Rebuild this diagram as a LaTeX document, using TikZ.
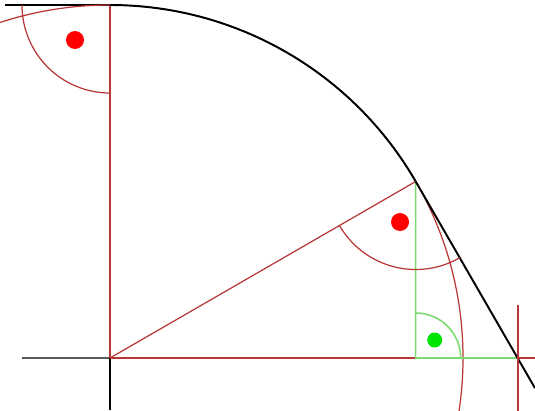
\documentclass[tikz,border=0pt]{standalone}
\usepackage{xcolor}
\usetikzlibrary{calc}
\definecolor{lnred}{RGB}{185,55,55}
\definecolor{lngreen}{RGB}{120,220,110}
\tikzset{
  redln/.style   ={draw=lnred, line width=0.7pt},
  greenln/.style ={draw=lngreen, line width=0.9pt},
  blackln/.style ={draw=black, line width=1.1pt},
  axisln/.style  ={draw=black, line width=0.6pt},
  reddot/.style  ={fill=red, draw=none},
  greendot/.style={fill=green!90!black, draw=none},
}

\begin{document}
\begin{tikzpicture}[x=0.02cm, y=0.02cm]
  \useasboundingbox (-110,-52) rectangle (425,358);
  \clip (-110,-52) rectangle (425,358);
  \fill[white] (-110,-52) rectangle (425,358);

  % points
  \coordinate (O) at (0,0);
  \coordinate (A) at (90:353);
  \coordinate (P) at (30:353);
  \coordinate (F) at (305.7,0);
  \coordinate (T) at (407.6,0);
  \coordinate (L) at (-88,0);
  \coordinate (B) at (0,-52);
  \coordinate (R) at (425,0);
  \coordinate (E) at ($(P)!1.171!(T)$);

  % axes and tangents
  \draw[draw=gray!70!black, line width=1pt] (L) -- (O);
  \draw[axisln] (O) -- (B);
  \draw[blackln] (A) -- ++(-105,0);
  \draw[redln] (O) -- (F);
  \draw[redln] (T) -- (R);
  \draw[redln] (O) -- (A);
  \draw[redln] (O) -- (P);
  \draw[redln] (O) circle[radius=353];
  \draw[blackln] (A) arc[start angle=90, end angle=30, radius=353];
  \draw[greenln] (P) -- (F) -- (T);
  \draw[blackln] (P) -- (E);
  \draw[redln, line width=0.9pt] ($(T)+(0.5,53)$) -- ($(T)+(0.5,-60)$);

  % angle marks
  \draw[redln] ($(A)+(-88,0)$) arc[start angle=180, end angle=270, radius=88];
  \draw[redln] ($(P)+(210:88)$) arc[start angle=210, end angle=300, radius=88];
  \draw[greenln] ($(F)+(45,0)$) arc[start angle=0, end angle=90, radius=45];

  \fill[reddot] ($(A)+(-35,-35)$) circle[radius=9];
  \fill[reddot] ($(P)+(-15.7,-40.5)$) circle[radius=9];
  \fill[greendot] ($(F)+(19,18)$) circle[radius=7.5];
\end{tikzpicture}
\end{document}
